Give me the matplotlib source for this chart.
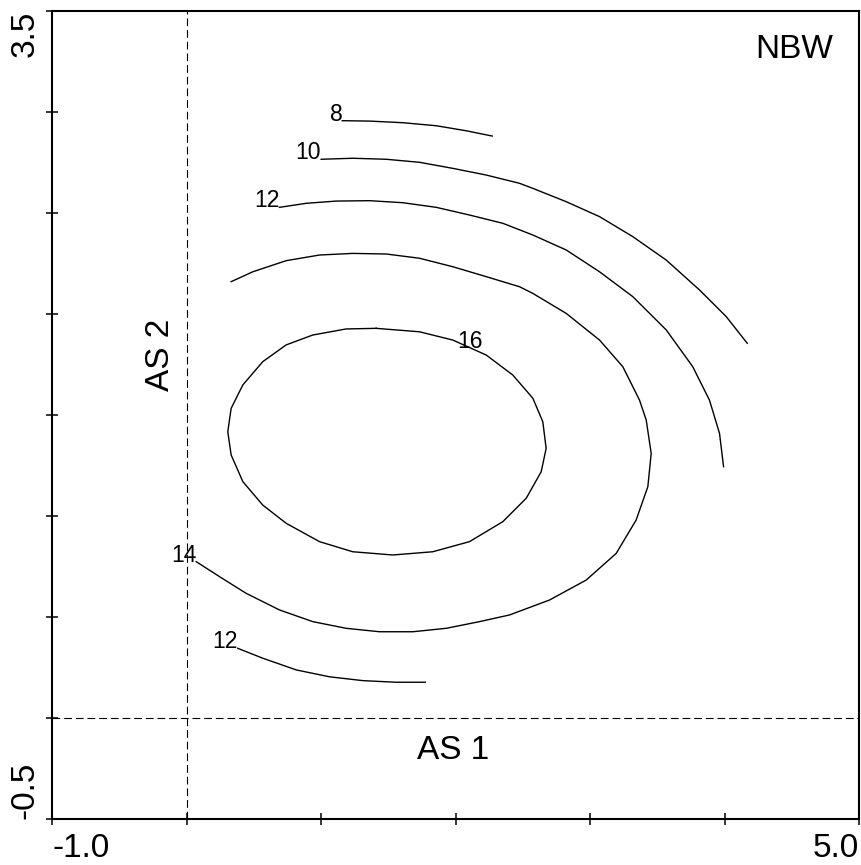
import matplotlib.pyplot as plt

plt.rcParams['font.family'] = ['Liberation Sans', 'DejaVu Sans']

# Isoline coordinates (AS 1, AS 2); the first point of each open line carries the label
c8_x = [1.158, 1.361, 1.608, 1.857, 2.080, 2.273]
c8_y = [2.957, 2.955, 2.947, 2.932, 2.907, 2.881]

c10_x = [1.001, 1.236, 1.485, 1.732, 1.980, 2.228, 2.476, 2.575, 2.823, 3.071,
         3.318, 3.567, 3.814, 4.013, 4.169]
c10_y = [2.766, 2.771, 2.766, 2.751, 2.721, 2.688, 2.647, 2.622, 2.556, 2.482,
         2.383, 2.267, 2.119, 1.987, 1.855]

c12a_x = [0.691, 0.890, 1.113, 1.361, 1.608, 1.857, 2.104, 2.352, 2.575, 2.823,
          3.071, 3.318, 3.567, 3.764, 3.888, 3.963, 3.993]
c12a_y = [2.528, 2.548, 2.559, 2.561, 2.551, 2.528, 2.490, 2.449, 2.391, 2.317,
          2.209, 2.086, 1.921, 1.739, 1.574, 1.409, 1.244]

c14_x = [0.072, 0.245, 0.444, 0.691, 0.939, 1.187, 1.435, 1.683, 1.931, 2.178,
         2.401, 2.699, 2.972, 3.195, 3.343, 3.430, 3.455, 3.418, 3.368, 3.244,
         3.071, 2.823, 2.575, 2.476, 2.228, 1.980, 1.732, 1.485, 1.236, 0.989,
         0.741, 0.493, 0.332]
c14_y = [0.774, 0.700, 0.617, 0.535, 0.477, 0.444, 0.427, 0.427, 0.444, 0.477,
         0.510, 0.584, 0.683, 0.815, 0.980, 1.145, 1.310, 1.475, 1.574, 1.739,
         1.871, 2.003, 2.102, 2.135, 2.185, 2.234, 2.276, 2.297, 2.300, 2.292,
         2.264, 2.209, 2.160]

c16_x = [1.410, 1.187, 0.939, 0.741, 0.567, 0.419, 0.332, 0.307, 0.332, 0.419,
         0.567, 0.741, 0.989, 1.236, 1.534, 1.831, 2.104, 2.352, 2.526, 2.637,
         2.674, 2.649, 2.575, 2.426, 2.228, 1.980, 1.732, 1.410]
c16_y = [1.929, 1.926, 1.896, 1.847, 1.764, 1.649, 1.533, 1.417, 1.302, 1.170,
         1.054, 0.964, 0.873, 0.823, 0.807, 0.823, 0.873, 0.972, 1.088, 1.219,
         1.335, 1.467, 1.583, 1.698, 1.797, 1.871, 1.912, 1.929]

c12b_x = [0.381, 0.567, 0.816, 1.063, 1.311, 1.559, 1.775]
c12b_y = [0.345, 0.296, 0.238, 0.204, 0.185, 0.177, 0.177]

levels = ['8', '10', '12', '14', '16', '12']
curves = [(c8_x, c8_y), (c10_x, c10_y), (c12a_x, c12a_y),
          (c14_x, c14_y), (c16_x, c16_y), (c12b_x, c12b_y)]
label16_xy = (2.108, 1.864)

x_ticks = [-1, 0, 1, 2, 3, 4, 5]
y_ticks = [-0.5, 0, 0.5, 1.0, 1.5, 2.0, 2.5, 3.0, 3.5]

fig = plt.figure(figsize=(8.61, 8.65), dpi=100)
ax = fig.add_axes([52 / 861, 46 / 865, 807 / 861, 808 / 865])

# reference axes through the origin
ax.axvline(0, color='black', lw=0.8, dashes=(7, 3.5))
ax.axhline(0, color='black', lw=0.8, dashes=(7, 3.5))

for (cx, cy), lev in zip(curves, levels):
    ax.plot(cx, cy, color='black', lw=1.0)
    if lev == '16':
        ax.text(label16_xy[0], label16_xy[1], lev, fontsize=16.5,
                ha='center', va='center')
    else:
        ax.text(cx[0], cy[0], lev, fontsize=16.5, ha='right', va='baseline')

ax.text(1.985, -0.16, 'AS 1', fontsize=24, ha='center', va='center')
ax.text(-0.19, 1.80, 'AS 2', fontsize=24, ha='center', va='center', rotation=90)
ax.text(4.52, 3.31, 'NBW', fontsize=24, ha='center', va='center')

ax.set_xlim(-1.0, 5.0)
ax.set_ylim(-0.5, 3.5)
ax.set_xticks(x_ticks)
ax.set_yticks(y_ticks)
ax.set_xticklabels(['-1.0'] + [''] * 5 + ['5.0'])
ax.set_yticklabels(['-0.5'] + [''] * 7 + ['3.5'])
xl = ax.get_xticklabels()
xl[0].set_ha('left')
xl[-1].set_ha('right')
yl = ax.get_yticklabels()
for t in yl:
    t.set_rotation(90)
yl[0].set_va('bottom')
yl[-1].set_va('top')
ax.tick_params(direction='inout', length=8, width=1.1, labelsize=24, pad=6)
ax.tick_params(axis='y', pad=4)
for s in ax.spines.values():
    s.set_linewidth(1.5)

plt.savefig('out.png', dpi=100)
